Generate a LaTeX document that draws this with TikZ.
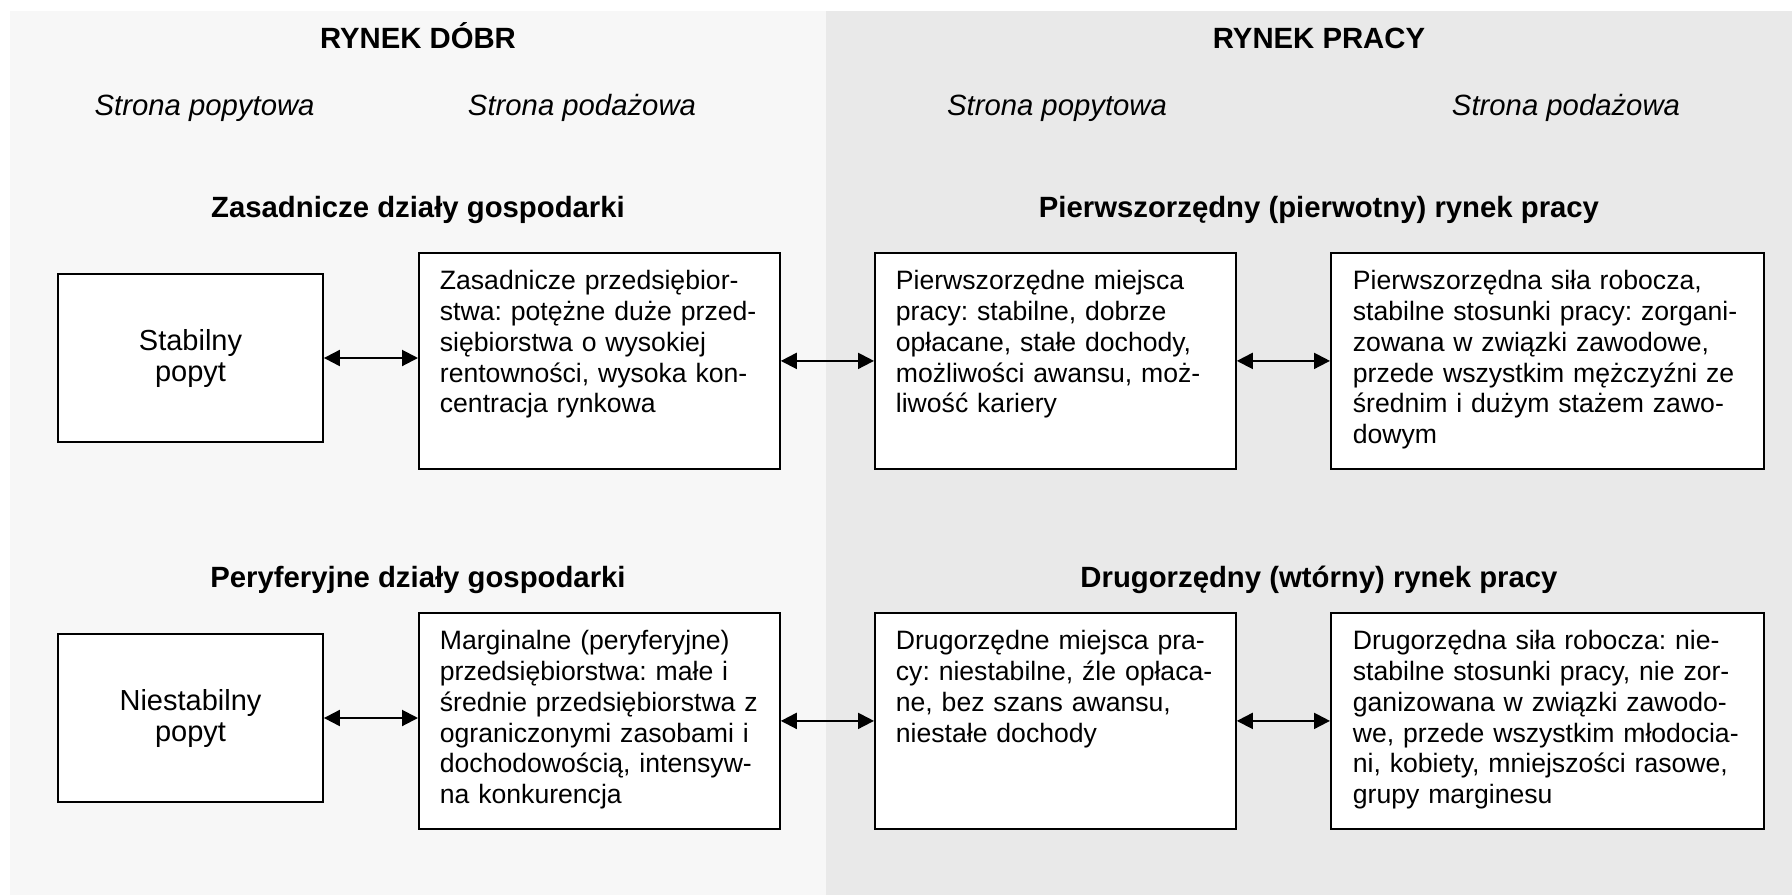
\documentclass[tikz,border=0pt]{standalone}
\usepackage{fontspec}
\setmainfont{Liberation Sans}
\usetikzlibrary{arrows.meta}
\definecolor{goodsbg}{HTML}{F7F7F7}
\definecolor{laborbg}{HTML}{E9E9E9}
\frenchspacing
\newcommand{\bodyfs}{\fontsize{26.6pt}{30.7pt}\selectfont\frenchspacing}
\newcommand{\headfs}{\fontsize{29.3pt}{31pt}\selectfont}
\newcommand{\demandfs}{\fontsize{29pt}{31pt}\selectfont}
\begin{document}
\begin{tikzpicture}[x=1pt,y=-1pt,
  panel title/.style={anchor=base,font=\headfs\bfseries},
  side label/.style={anchor=base,font=\headfs\itshape},
  demandbox/.style={draw,line width=1.8pt,fill=white,inner sep=0pt,
    minimum width=265pt,minimum height=168pt,align=center,font=\demandfs},
  textbox/.style={draw,line width=1.8pt,fill=white,anchor=north west,
    inner xsep=21pt,inner ysep=0pt,text width=319pt,align=left,
    text height=37pt,text depth=179pt,font=\bodyfs},
  widebox/.style={textbox,inner xsep=22pt,text width=389pt},
  link/.style={line width=2pt,
    {Triangle[length=16pt,width=16pt]}-{Triangle[length=16pt,width=16pt]}}
]
% page and the two market panels
\useasboundingbox (0,0) rectangle (1792,895);
\fill[white] (0,0) rectangle (1792,895);
\fill[goodsbg] (10,11) rectangle (826,895);
\fill[laborbg] (826,11) rectangle (1792,895);

% column headings
\node[panel title] (goods) at (418,48.3) {RYNEK DÓBR};
\node[panel title] (labor) at (1319,48.3) {RYNEK PRACY};
\node[side label] (gdem) at (204.6,115) {Strona popytowa};
\node[side label] (gsup) at (582,115) {Strona podażowa};
\node[side label] (ldem) at (1057,115) {Strona popytowa};
\node[side label] (lsup) at (1566,115) {Strona podażowa};

% row headings
\node[panel title] (core) at (418,217) {Zasadnicze działy gospodarki};
\node[panel title] (prim) at (1319,217) {Pierwszorzędny (pierwotny) rynek pracy};
\node[panel title] (peri) at (418,587) {Peryferyjne działy gospodarki};
\node[panel title] (sec) at (1319,587) {Drugorzędny (wtórny) rynek pracy};

% upper row
\node[demandbox] (d1) at (190.5,358) {Stabilny\\popyt};
\node[textbox] (s1) at (418,252) {Zasadnicze przedsiębior-\\stwa: potężne duże przed-\\siębiorstwa o wysokiej\\rentowności, wysoka kon-\\centracja rynkowa};
\node[textbox] (j1) at (874,252) {Pierwszorzędne miejsca\\pracy: stabilne, dobrze\\opłacane, stałe dochody,\\możliwości awansu, moż-\\liwość kariery};
\node[widebox] (w1) at (1330,252) {Pierwszorzędna siła robocza,\\stabilne stosunki pracy: zorgani-\\zowana w związki zawodowe,\\przede wszystkim mężczyźni ze\\średnim i dużym stażem zawo-\\dowym};

% lower row
\node[demandbox] (d2) at (190.5,718) {Niestabilny\\popyt};
\node[textbox] (s2) at (418,612) {Marginalne (peryferyjne)\\przedsiębiorstwa: małe i\\średnie przedsiębiorstwa z\\ograniczonymi zasobami i\\dochodowością, intensyw-\\na konkurencja};
\node[textbox] (j2) at (874,612) {Drugorzędne miejsca pra-\\cy: niestabilne, źle opłaca-\\ne, bez szans awansu,\\niestałe dochody};
\node[widebox] (w2) at (1330,612) {Drugorzędna siła robocza: nie-\\stabilne stosunki pracy, nie zor-\\ganizowana w związki zawodo-\\we, przede wszystkim młodocia-\\ni, kobiety, mniejszości rasowe,\\grupy marginesu};

% two-way links
\draw[link] (d1.east) -- (d1.east -| s1.west);
\draw[link] (s1.east) -- (j1.west);
\draw[link] (j1.east) -- (w1.west);
\draw[link] (d2.east) -- (d2.east -| s2.west);
\draw[link] (s2.east) -- (j2.west);
\draw[link] (j2.east) -- (w2.west);
\end{tikzpicture}
\end{document}
